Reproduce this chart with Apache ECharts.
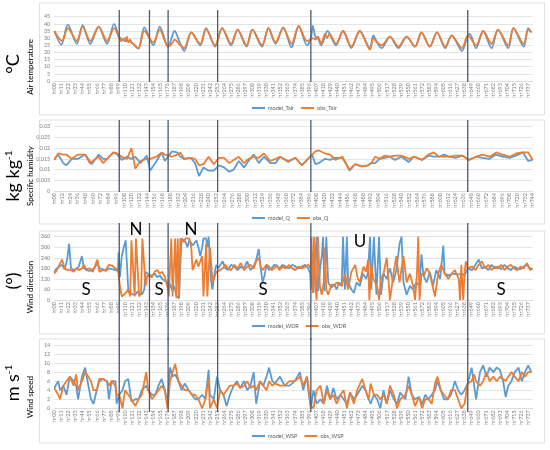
<!DOCTYPE html>
<html>
<head>
<meta charset="utf-8">
<script src="https://cdn.jsdelivr.net/npm/echarts@6/dist/echarts.min.js"></script>
<style>
  html, body { margin: 0; background: #fff; }
  #chart { width: 550px; height: 450px; }
</style>
</head>
<body>
<div id="chart"></div>
<script>
// hourly series as [hour, value]
const tairModel = [[0,35],[11,25.5],[21,39.5],[35,26],[44,39],[56,26],[69,38],[82,26],[93,40],[101,31],[106,29],[110,28],[113,28],[116,28],[120,27],[123,26],[127,24],[131,22.5],[140,37.5],[154,25],[164,38],[177,24],[187,35],[196,26],[202,21],[213,34],[227,25],[236,37],[250,24],[261,37],[275,25],[285,36],[299,24],[308,36],[323,24],[333,37],[344,26],[356,37.5],[369,23.5],[380,38.5],[393,25],[399,30],[402,38.5],[406,31],[410,30],[415,25],[425,35],[438,25],[449,35],[462,23],[475,35],[491,23],[496,32],[502,27],[509,23],[522,31],[535,23],[548,31],[561,24],[571,34],[584,24],[595,34],[608,23],[618,32],[634,21],[643,32],[646,33],[656,23],[667,35],[680,23],[690,36],[706,23],[714,37],[730,24],[737,37],[742,34]]
const tairObs = [[0,35],[12,28],[21,37],[35,28],[44,38],[56,28],[69,38],[82,28],[93,37],[101,30],[104,28],[107,29],[110,30],[112,28],[113,31],[115,27],[118,29],[120,27],[123,26],[127,24],[131,23],[140,35],[154,27],[164,36],[177,24],[184,27],[187,29],[196,25],[202,23],[213,34],[227,26],[236,36.5],[250,25],[261,37],[275,26],[285,36],[299,25],[308,36],[323,25],[333,37],[344,27],[356,37],[369,26],[380,38.5],[393,28],[399,29],[402,30],[406,29],[410,31],[415,26],[421,33],[424,30],[428,33],[438,26],[449,35],[462,24],[475,35],[491,22],[496,30],[502,27],[509,25],[522,31],[535,24],[548,31],[561,24],[571,34],[584,24],[595,34],[608,24],[618,32],[634,23],[643,32],[646,31],[656,25],[667,35],[680,26],[690,36],[706,25],[714,37],[730,26],[737,36],[742,34]]

const qModel = [[0,0.0148],[6,0.017],[14,0.013],[19,0.012],[27,0.015],[37,0.015],[48,0.017],[55,0.014],[58,0.0125],[69,0.017],[76,0.015],[82,0.015],[92,0.018],[98,0.017],[105,0.0145],[113,0.016],[120,0.015],[126,0.016],[134,0.013],[144,0.0165],[149,0.0095],[159,0.014],[167,0.018],[172,0.014],[183,0.0185],[191,0.018],[196,0.016],[202,0.015],[212,0.0155],[219,0.013],[225,0.007],[232,0.011],[240,0.0095],[248,0.0095],[256,0.012],[264,0.011],[272,0.009],[279,0.010],[287,0.014],[295,0.011],[302,0.014],[310,0.017],[318,0.013],[326,0.016],[336,0.013],[344,0.013],[351,0.016],[364,0.0135],[375,0.0155],[385,0.012],[393,0.0145],[401,0.017],[406,0.0125],[411,0.013],[421,0.015],[429,0.0145],[437,0.0155],[448,0.0155],[455,0.012],[459,0.0095],[468,0.0125],[478,0.0115],[488,0.012],[493,0.013],[499,0.013],[506,0.015],[514,0.0155],[522,0.016],[530,0.0145],[540,0.016],[551,0.0135],[559,0.016],[572,0.0145],[582,0.0165],[590,0.016],[598,0.016],[606,0.017],[614,0.016],[624,0.0155],[635,0.0165],[645,0.0145],[656,0.016],[666,0.0155],[677,0.015],[687,0.017],[697,0.016],[708,0.0155],[718,0.0165],[729,0.018],[737,0.014],[744,0.0145]]
const qObs = [[0,0.0145],[6,0.0175],[14,0.017],[19,0.017],[27,0.015],[37,0.017],[48,0.017],[55,0.013],[58,0.0125],[69,0.016],[76,0.013],[82,0.015],[92,0.018],[98,0.0175],[105,0.016],[113,0.015],[120,0.02],[126,0.0105],[134,0.014],[144,0.015],[149,0.015],[159,0.016],[167,0.018],[172,0.017],[183,0.016],[191,0.017],[196,0.018],[202,0.015],[212,0.0155],[219,0.015],[225,0.012],[232,0.0125],[240,0.016],[248,0.0125],[256,0.0155],[264,0.0155],[272,0.013],[279,0.0145],[287,0.016],[295,0.013],[302,0.015],[310,0.016],[318,0.0155],[326,0.0175],[336,0.014],[344,0.015],[351,0.016],[364,0.014],[375,0.0155],[385,0.012],[393,0.0145],[401,0.017],[406,0.0185],[411,0.019],[421,0.0175],[429,0.017],[437,0.0145],[448,0.016],[455,0.012],[459,0.010],[468,0.0125],[478,0.0115],[488,0.012],[493,0.013],[499,0.016],[506,0.015],[514,0.0165],[522,0.016],[530,0.0165],[540,0.0165],[551,0.015],[559,0.016],[572,0.0145],[582,0.017],[590,0.018],[598,0.016],[606,0.016],[614,0.016],[624,0.0165],[635,0.0165],[645,0.0145],[656,0.016],[666,0.017],[677,0.016],[687,0.018],[697,0.017],[708,0.016],[718,0.0175],[729,0.018],[737,0.018],[744,0.0145]]

const wdrModel = [[0,160],[4,180],[8,190],[12,200],[16,175],[20,230],[23,320],[26,180],[30,170],[34,175],[38,190],[43,250],[46,180],[50,170],[55,165],[60,175],[64,190],[67,220],[70,180],[75,175],[80,165],[85,180],[90,175],[95,170],[99,165],
  [100,270],[102,130],[105,250],[108,300],[111,340],[113,350],[115,60],[118,40],[120,50],[123,30],[125,40],[127,35],[130,50],[132,30],[135,40],[137,35],[140,60],[142,160],[145,150],[148,140],[152,140],[156,150],[160,130],[164,140],[168,120],[172,110],[175,120],[177,100],[178,60],[180,90],[182,70],[184,50],[186,80],[188,60],[190,20],[192,30],[194,10],[196,200],[198,350],[201,340],[204,330],[207,300],[210,340],[213,330],[215,310],[218,320],[221,340],[224,300],[227,250],[230,300],[232,350],[234,340],[236,350],[238,300],[240,360],[242,350],[244,100],[246,60],[249,150],[252,200],[255,180],
  [258,190],[262,220],[266,180],[270,170],[275,200],[280,190],[285,170],[290,190],[295,180],[300,220],[305,170],[310,190],[314,230],[318,290],[321,180],[324,100],[327,140],[330,200],[334,170],[338,180],[342,200],[346,190],[350,180],[355,200],[360,190],[365,180],[370,200],[375,190],[380,180],[385,190],[390,200],[395,180],[398,150],
  [399,60],[401,250],[403,40],[405,200],[408,360],[410,50],[414,200],[416,250],[418,360],[420,50],[423,360],[426,100],[431,70],[435,90],[439,60],[443,100],[447,80],[449,360],[452,60],[455,360],[457,100],[462,60],[466,40],[470,100],[475,80],[480,150],[485,120],[488,160],[491,360],[493,60],[497,360],[501,30],[505,360],[508,30],[512,150],[517,120],[522,180],[527,100],[532,170],[537,320],[540,360],[543,100],[548,30],[553,80],[558,60],[563,100],[568,80],[571,260],[574,140],[579,100],[584,160],[589,80],[594,170],[600,120],[605,310],[607,150],[613,140],[620,150],[627,145],[633,150],[638,140],[643,180],
  [646,190],[650,170],[655,200],[660,230],[665,180],[670,190],[675,170],[680,200],[685,180],[690,190],[695,175],[700,200],[705,180],[710,170],[715,190],[720,180],[725,175],[730,190],[735,200],[740,180],[744,175]]
const wdrObs = [[0,150],[4,170],[8,200],[12,230],[16,180],[20,170],[23,180],[26,170],[30,160],[34,180],[38,170],[43,180],[46,200],[50,175],[55,180],[60,160],[64,200],[67,230],[70,160],[75,170],[80,170],[85,200],[90,195],[95,180],[99,170],
  [100,180],[102,80],[105,20],[108,30],[111,40],[113,30],[115,60],[118,20],[120,340],[123,350],[125,20],[127,350],[130,350],[132,20],[135,40],[137,350],[140,350],[142,80],[145,140],[148,150],[152,130],[156,160],[160,170],[164,150],[168,160],[172,130],[175,140],[177,60],[178,20],[180,30],[182,350],[184,20],[186,20],[188,350],[190,10],[192,350],[194,20],[196,350],[198,350],[201,330],[204,350],[207,340],[210,350],[213,300],[215,170],[218,200],[221,230],[224,190],[227,200],[230,250],[232,20],[234,10],[236,320],[238,20],[240,10],[242,300],[244,210],[246,100],[249,130],[252,160],[255,170],
  [258,170],[262,180],[266,200],[270,180],[275,170],[280,200],[285,180],[290,210],[295,170],[300,190],[305,200],[310,180],[314,220],[318,240],[321,190],[324,170],[327,180],[330,200],[334,190],[338,170],[342,180],[346,200],[350,170],[355,190],[360,180],[365,200],[370,180],[375,170],[380,190],[385,180],[390,190],[395,200],[398,200],
  [399,180],[400,360],[402,40],[404,360],[406,80],[408,0],[410,360],[413,80],[416,30],[419,100],[421,300],[423,60],[426,30],[431,90],[435,80],[439,100],[443,90],[447,80],[452,150],[457,60],[462,160],[468,200],[472,120],[475,100],[481,190],[485,160],[488,230],[490,0],[493,200],[496,120],[499,100],[503,60],[505,0],[508,120],[512,150],[517,240],[520,100],[522,0],[525,80],[527,140],[532,250],[535,150],[537,100],[540,180],[543,250],[548,100],[553,150],[558,80],[561,0],[564,150],[566,360],[568,0],[571,150],[575,140],[579,180],[583,160],[587,100],[592,20],[597,150],[602,200],[607,150],[613,120],[618,150],[623,170],[626,180],[629,120],[631,0],[633,200],[636,0],[638,150],[640,220],[643,180],
  [646,180],[650,190],[655,170],[660,200],[665,220],[670,180],[675,200],[680,170],[685,190],[690,180],[695,200],[700,170],[705,190],[710,200],[715,180],[720,170],[725,190],[730,180],[735,210],[740,170],[744,180]]

const wspModel = [[0,4.5],[6,6],[9,4],[14,5],[19,3],[24,7],[30,6],[34,5],[37,2],[43,7],[48,9],[53,5],[57,2],[61,1],[66,4],[70,6],[76,6.5],[82,6],[85,2],[89,6],[95,6],[97,1],[101,3],[106,4],[110,6],[115,6.5],[120,1.5],[126,2],[131,2],[136,4],[143,5],[146,4],[152,3],[157,3],[162,5],[167,6.5],[172,4],[176,1],[180,9],[184,7],[188,7.5],[193,6],[198,4],[203,5.5],[209,4],[214,3],[219,2],[224,2],[230,3],[235,2],[240,8.5],[242,3],[248,2],[253,7],[258,4],[263,3],[268,0.5],[273,3],[279,5],[284,6],[289,4.5],[295,6],[300,4],[305,5],[310,8],[314,1],[320,6],[325,5],[330,7],[334,9],[339,6],[343,5.5],[351,7],[358,5],[366,5],[374,6],[382,8],[387,4],[393,7],[395,4],[399,0],[403,4],[408,1],[414,2],[419,1],[424,5],[429,2],[434,4.5],[439,2],[445,3],[450,2],[455,1],[460,3.5],[466,2],[471,3],[479,5],[484,4],[489,2],[492,1],[497,3],[502,2],[507,0],[512,4],[517,1],[522,4],[528,2],[533,1],[538,3.5],[546,2],[551,7],[556,3],[561,2],[567,2.5],[572,1],[577,3],[582,2],[587,3],[592,4],[596,6],[601,4],[606,2],[612,2],[617,3],[623,6],[628,4],[633,3],[638,4],[643,5.5],[649,9],[653,5],[656,2],[662,8],[667,9.5],[672,7],[677,9],[683,8],[688,9],[693,8.5],[698,6],[702,2.5],[706,5],[711,6],[716,8],[722,9],[727,6],[732,8],[737,9.5],[742,8]]
const wspObs = [[0,4.5],[6,3],[9,2],[14,5],[19,6],[24,7],[30,5],[34,7.5],[37,4],[43,6],[48,8],[53,7],[57,6],[61,4],[66,4],[70,6.5],[76,6.5],[82,6],[85,5],[89,6],[95,5],[97,3],[101,3],[106,0],[110,4],[115,3],[120,2],[126,0.5],[131,2],[136,3],[143,8],[146,4],[152,2],[157,3],[162,4],[167,5],[172,4],[176,0],[180,6],[184,8],[188,9.8],[193,6],[198,5],[203,4],[209,4],[214,3],[219,3],[224,2],[230,0],[235,2],[240,6.5],[242,0],[248,2],[253,0],[258,4],[263,3],[268,4],[273,5],[279,5],[284,5.5],[289,4.5],[295,5],[300,6],[305,4.5],[310,5],[314,4],[320,6],[325,5],[330,4],[334,6],[339,5],[343,5.5],[351,5],[358,5],[366,6],[374,6],[382,7],[387,5],[393,7],[395,5],[399,0.5],[403,0],[408,4],[414,5],[419,1],[424,4],[429,2],[434,3],[439,1],[445,3],[450,4],[455,0],[460,3.5],[466,1],[471,4],[479,6.5],[484,4],[489,2],[492,5.5],[497,3],[502,3],[507,2],[512,3],[517,1],[522,5],[528,3],[533,0],[538,2],[546,3],[551,5],[556,3],[561,0.5],[567,2.5],[572,0],[577,2],[582,2],[587,1],[592,5.5],[596,7],[601,4],[606,3],[612,2],[617,4],[623,4],[628,2],[633,0],[638,1],[643,5.5],[649,6],[653,7.5],[656,6],[662,5],[667,6],[672,8],[677,6],[683,7],[688,6],[693,7],[698,6.5],[702,6],[706,7],[711,8],[716,7],[722,6],[727,8],[732,7],[737,8],[742,8]]

// hours where the event boundaries are drawn
const eventHours = [101, 148, 177, 254, 399, 643]

const BLUE = '#5B9BD5'
const ORANGE = '#ED7D31'
const FONT = 'Lato, "Open Sans", sans-serif'

const panels = [
  { top: 16.7, height: 64.3, min: 0, max: 45, step: 5, xStep: 11, names: ['model_Tair', 'obs_Tair'], data: [tairModel, tairObs], smooth: 0.3,
    legendTop: 105, box: [3, 115], line: [10, 82], unit: '°C', unitY: 64, title: 'Air temperature', titleY: 67 },
  { top: 126.7, height: 64.3, min: 0, max: 0.03, step: 0.005, xStep: 12, names: ['model_Q', 'obs_Q'], data: [qModel, qObs], smooth: false,
    legendTop: 215, box: [120, 224], line: [120, 192], unit: 'kg kg{s|-1}', unitY: 176, title: 'Specific humidity', titleY: 176 },
  { top: 236.7, height: 63.3, min: 0, max: 360, step: 60, xStep: 11, names: ['model_WDR', 'obs_WDR'], data: [wdrModel, wdrObs], smooth: false,
    legendTop: 323, box: [231, 334], line: [223, 340], unit: '(°)', unitY: 281, title: 'Wind direction', titleY: 287 },
  { top: 345, height: 63.3, min: 0, max: 14, step: 2, xStep: 11, names: ['model_WSP', 'obs_WSP'], data: [wspModel, wspObs], smooth: false,
    legendTop: 433, box: [339, 443], line: [338, 412], unit: 'm s{s|-1}', unitY: 383, title: 'Wind speed', titleY: 397 }
]

const marks = [
  { t: 'N', x: 136, y: 230 }, { t: 'N', x: 191, y: 230 }, { t: 'U', x: 360, y: 242 },
  { t: 'S', x: 86, y: 290 }, { t: 'S', x: 159, y: 290 }, { t: 'S', x: 263, y: 290 }, { t: 'S', x: 501, y: 290 }
]

const chart = echarts.init(document.getElementById('chart'))

const series = []
panels.forEach((p, i) => {
  p.names.forEach((name, k) => {
    series.push({
      name,
      type: 'line',
      xAxisIndex: i,
      yAxisIndex: i,
      data: p.data[k],
      showSymbol: false,
      symbol: 'none',
      smooth: p.smooth,
      lineStyle: { width: 1.8, color: k ? ORANGE : BLUE },
      itemStyle: { color: k ? ORANGE : BLUE },
      animation: false
    })
  })
})

chart.setOption({
  backgroundColor: '#fff',
  animation: false,
  grid: panels.map(p => ({ left: 54.3, right: 17.3, top: p.top, height: p.height })),
  xAxis: panels.map((p, i) => ({
    type: 'value',
    gridIndex: i,
    min: 0,
    max: 744,
    interval: p.xStep,
    splitLine: { show: false },
    axisTick: { show: false },
    axisLine: { lineStyle: { color: '#D9D9D9', width: 0.8 } },
    axisLabel: {
      rotate: 90,
      fontSize: 5.5,
      fontFamily: FONT,
      color: '#7F7F7F',
      margin: 2,
      showMaxLabel: true,
      formatter: v => (v % p.xStep ? '' : 'hr' + String(v).padStart(2, '0'))
    }
  })),
  yAxis: panels.map((p, i) => ({
    type: 'value',
    gridIndex: i,
    min: p.min,
    max: p.max,
    interval: p.step,
    axisLine: { show: false },
    axisTick: { show: false },
    splitLine: { lineStyle: { color: '#D9D9D9', width: 0.7 } },
    axisLabel: { fontSize: 5.5, fontFamily: FONT, color: '#7F7F7F', margin: 4 }
  })),
  legend: panels.map(p => ({
    data: p.names,
    left: 252,
    top: p.legendTop,
    icon: 'rect',
    itemWidth: 13,
    itemHeight: 2,
    itemGap: 7,
    padding: 0,
    textStyle: { fontSize: 5.5, fontFamily: FONT, color: '#595959', padding: [0, 0, 0, -2] }
  })),
  series
})

// event boundary lines placed through the axis scale
const elements = []
panels.forEach((p, i) => {
  elements.push({
    type: 'rect', z: -1, silent: true,
    shape: { x: 39.5, y: p.box[0], width: 505, height: p.box[1] - p.box[0] },
    style: { fill: 'none', stroke: '#D9D9D9', lineWidth: 0.8 }
  })
  eventHours.forEach(h => {
    const px = chart.convertToPixel({ xAxisIndex: i }, h)
    elements.push({
      type: 'line', z: 10, silent: true,
      shape: { x1: px, y1: p.line[0], x2: px, y2: p.line[1] },
      style: { stroke: '#4A5873', lineWidth: 1.3 }
    })
  })
  elements.push({
    type: 'text', x: 13, y: p.unitY, rotation: Math.PI / 2, silent: true,
    style: {
      text: p.unit, x: 0, y: 0, align: 'center', verticalAlign: 'middle',
      fontSize: 18, fontFamily: FONT, fill: '#000',
      rich: { s: { fontSize: 10, verticalAlign: 'top', fontFamily: FONT, fill: '#000' } }
    }
  })
  elements.push({
    type: 'text', x: 30, y: p.titleY, rotation: Math.PI / 2, silent: true,
    style: { text: p.title, x: 0, y: 0, align: 'center', verticalAlign: 'middle', fontSize: 8, fontFamily: FONT, fill: '#000' }
  })
})
marks.forEach(m => {
  elements.push({
    type: 'text', x: m.x, y: m.y, z: 20, silent: true,
    style: { text: m.t, x: 0, y: 0, align: 'center', verticalAlign: 'middle', fontSize: 17, fontFamily: FONT, fill: '#000' }
  })
})

chart.setOption({ graphic: { elements } })
</script>
</body>
</html>
